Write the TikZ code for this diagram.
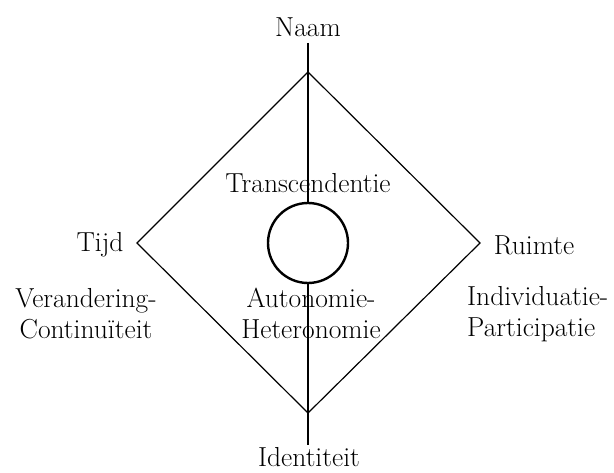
\documentclass[tikz,border=0pt]{standalone}
\usetikzlibrary{positioning}

\begin{document}
\begin{tikzpicture}[x=1pt, y=-1pt,
    word/.style={font=\fontsize{27.5}{31}\selectfont, inner sep=0pt, align=center},
    edge/.style={line width=1.2pt}]
  \useasboundingbox (0,0) rectangle (614,473);
  \coordinate (top) at (308,72);
  \coordinate (bot) at (308,413);
  \coordinate (lft) at (137,243);
  \coordinate (rgt) at (480,243);
  \coordinate (axtop) at (308,43);
  \coordinate (axbot) at (308,445);
  \draw[edge] (top) -- (rgt) -- (bot) -- (lft) -- cycle;
  \draw[edge] (axtop) -- (axbot);
  \node[circle, draw, fill=white, line width=2.4pt, minimum size=80pt, inner sep=0pt] (core) at (308,243) {};
  \node[word] (naam) at (308,27) {Naam};
  \node[word, anchor=base] (ident) at (309,467) {Identiteit};
  \node[word] (tijd) at (100,245) {Tijd};
  \node[word] (ruimte) at (534,245) {Ruimte};
  \node[word] (trans) at (308,183) {Transcendentie};
  \node[word] (auto) at (311,313) {Autonomie-\\Heteronomie};
  \node[word] (verand) at (86,314) {Verandering-\\Continu\"iteit};
  \node[word, align=left, anchor=west] (indiv) at (467,314) {Individuatie-\\Participatie};
\end{tikzpicture}
\end{document}
